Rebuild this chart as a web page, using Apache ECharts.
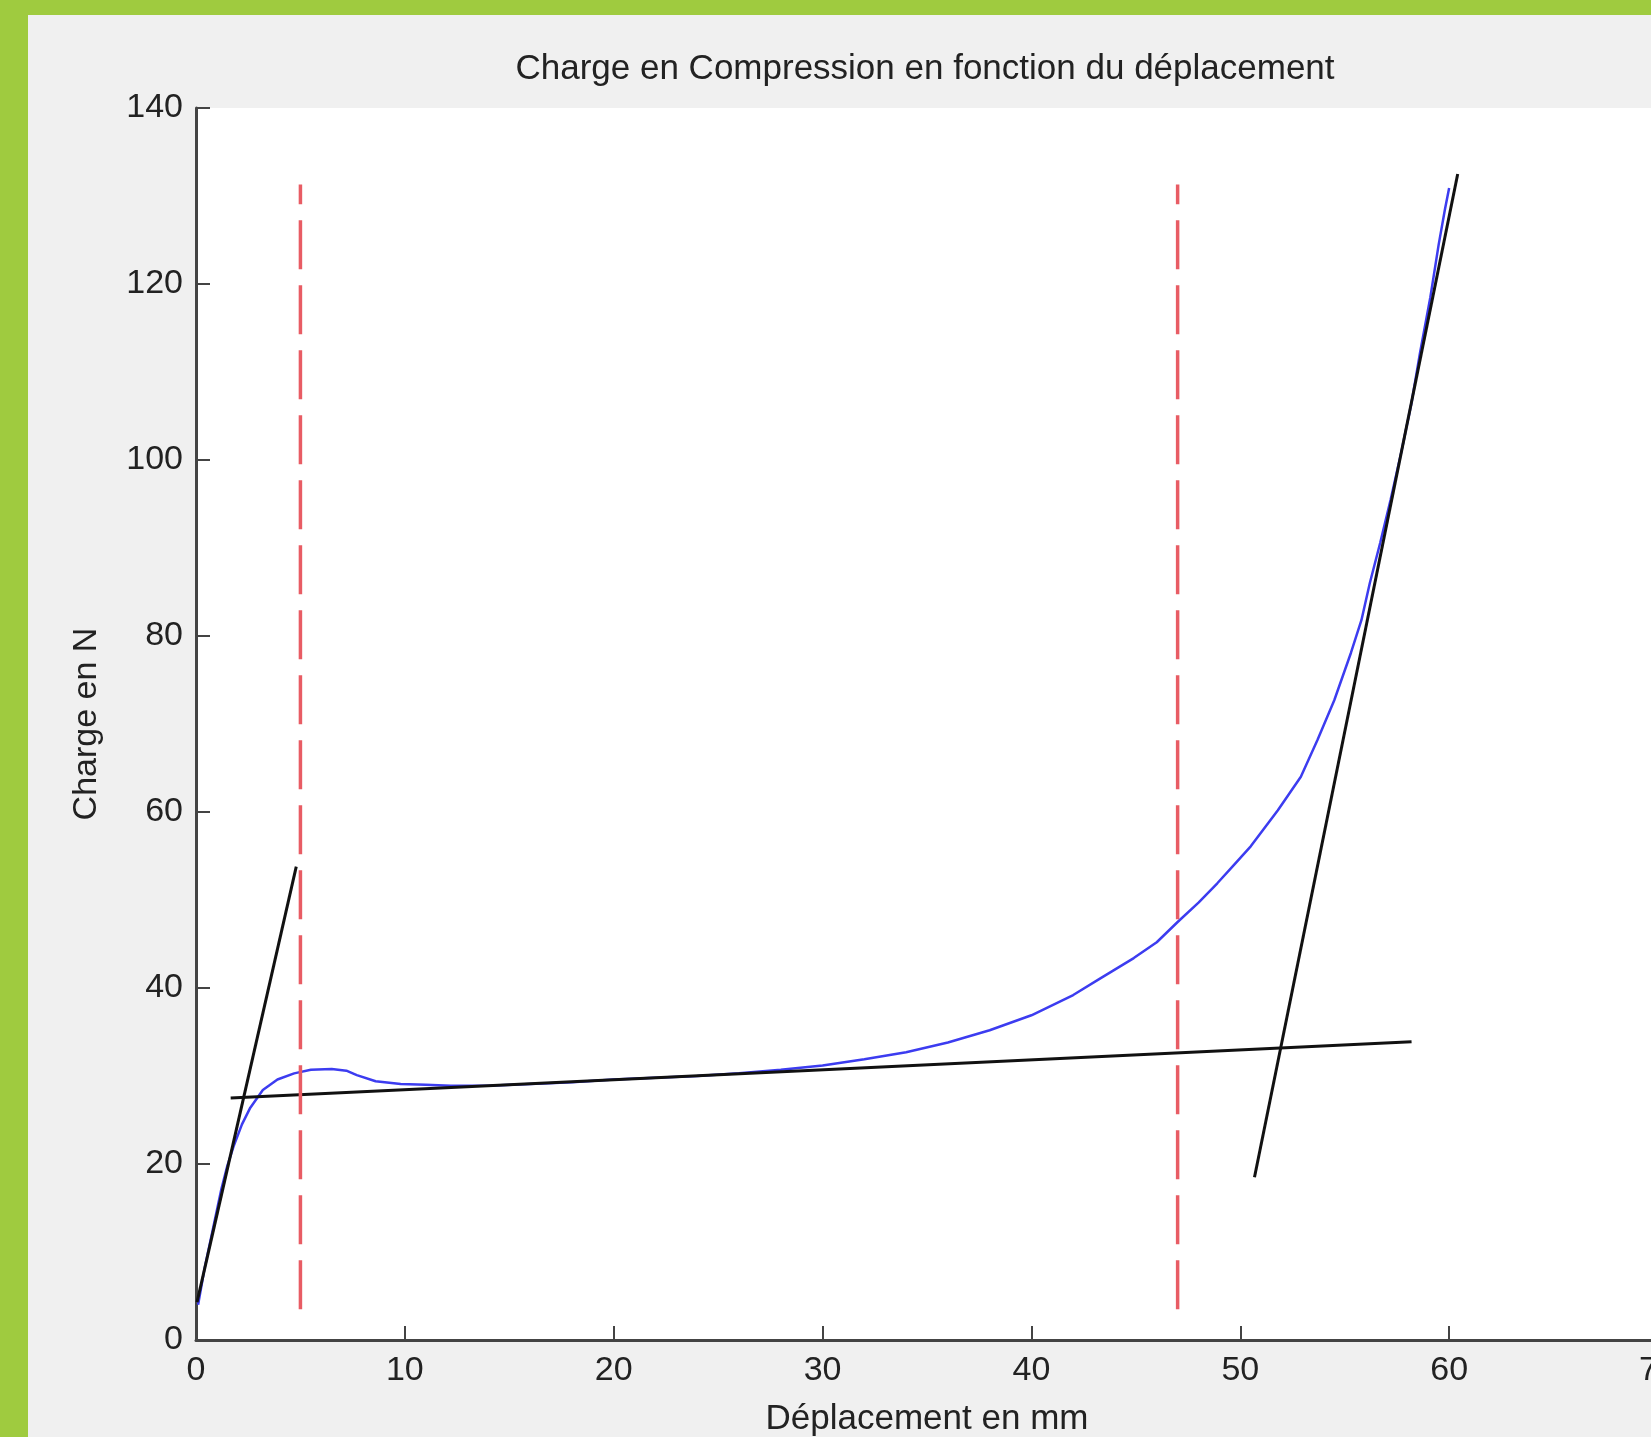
<!DOCTYPE html>
<html>
<head>
<meta charset="utf-8">
<script src="https://cdn.jsdelivr.net/npm/echarts@6/dist/echarts.min.js"></script>
<style>
html,body{margin:0;padding:0;}
body{width:1651px;height:1437px;background:#9fcb3f;position:relative;overflow:hidden;}
#chart{position:absolute;left:28px;top:15px;width:1700px;height:1422px;background:#f0f0f0;}
</style>
</head>
<body>
<div id="chart"></div>
<script>
// courbe mesuree (deplacement mm, charge N)
var curveX = [0.1,0.4,0.8,1.2,1.5,1.8,2.2,2.6,3.2,3.9,4.7,5.5,6.5,7.2,7.7,8.6,9.8,11.0,12.2,14,16,18,20,22,24,26,28,30,32,34,36,38,40,42,43.3,44.9,46,47,48,48.9,49.7,50.5,51.8,52.9,53.7,54.5,55.3,55.8,56.2,56.7,57.2,57.7,58.2,58.6,59.1,59.5,59.8,60.0];
var curveY = [4.0,8.0,12.5,17.0,19.8,22.0,24.5,26.4,28.4,29.6,30.3,30.7,30.8,30.6,30.1,29.4,29.1,29.0,28.9,28.9,29.1,29.3,29.6,29.8,30.0,30.3,30.7,31.2,31.9,32.7,33.8,35.2,36.9,39.2,41.1,43.4,45.2,47.5,49.7,51.9,54.0,56.1,60.2,64.0,68.2,72.7,78.1,81.8,86.0,90.6,95.5,100.8,106.5,112.1,118.5,124.5,128.5,130.9];

// droites tangentes
var tangentStart = [[0.05,4.3],[4.8,53.8]];
var tangentPlateau = [[1.66,27.5],[58.2,33.9]];
var tangentEnd = [[50.68,18.5],[60.41,132.5]];

// limites verticales
var limitX = [5.0, 47.0];
var limitY = [3.5, 131.3];

var xTicks = {min:0, max:70, interval:10};
var yTicks = {min:0, max:140, interval:20};

var curveData = [];
for (var i = 0; i < curveX.length; i++) {
    curveData.push([curveX[i], curveY[i]]);
}

var font = "'Liberation Sans', Arial, Helvetica, sans-serif";
var textColor = '#222';
var axisColor = '#444';

function blackLine(data){
    return {
        type:'line',
        data:data,
        showSymbol:false,
        silent:true,
        lineStyle:{color:'#111', width:3},
        z:3
    };
}
function redLine(x){
    return {
        type:'line',
        data:[[x, limitY[0]],[x, limitY[1]]],
        showSymbol:false,
        silent:true,
        lineStyle:{color:'#e85c64', width:3.5, type:[49,16]},
        z:4
    };
}

var chart = echarts.init(document.getElementById('chart'));
var option = {
    animation:false,
    backgroundColor:'#f0f0f0',
    graphic:[{
        type:'text',
        x:897,
        y:54,
        style:{
            text:'Charge en Compression en fonction du déplacement',
            font:'35px ' + font,
            fill:textColor,
            textAlign:'center',
            textVerticalAlign:'middle'
        }
    }],
    grid:{
        left:168,
        top:93,
        width:1462,
        height:1232,
        outerBoundsMode:'none',
        containLabel:false,
        show:true,
        backgroundColor:'#ffffff',
        borderWidth:0
    },
    xAxis:{
        type:'value',
        min:xTicks.min,
        max:xTicks.max,
        interval:xTicks.interval,
        name:'Déplacement en mm',
        nameLocation:'middle',
        nameGap:62,
        nameTextStyle:{fontSize:35, fontFamily:font, color:textColor},
        axisLine:{show:true, onZero:false, lineStyle:{color:axisColor, width:3}},
        axisTick:{show:true, inside:true, length:14, lineStyle:{color:axisColor, width:2}},
        axisLabel:{fontSize:34, fontFamily:font, color:textColor, margin:14},
        splitLine:{show:false}
    },
    yAxis:{
        type:'value',
        min:yTicks.min,
        max:yTicks.max,
        interval:yTicks.interval,
        name:'Charge en N',
        nameLocation:'middle',
        nameGap:92,
        nameTextStyle:{fontSize:34, fontFamily:font, color:textColor},
        axisLine:{show:true, onZero:false, lineStyle:{color:axisColor, width:3}},
        axisTick:{show:true, inside:true, length:14, lineStyle:{color:axisColor, width:2}},
        axisLabel:{fontSize:34, fontFamily:font, color:textColor, margin:13},
        splitLine:{show:false}
    },
    series:[
        {
            type:'line',
            data:curveData,
            showSymbol:false,
            silent:true,
            lineStyle:{color:'#3c3cf0', width:2.5},
            z:2
        },
        blackLine(tangentStart),
        blackLine(tangentPlateau),
        blackLine(tangentEnd),
        redLine(limitX[0]),
        redLine(limitX[1])
    ]
};
chart.setOption(option);
</script>
</body>
</html>
